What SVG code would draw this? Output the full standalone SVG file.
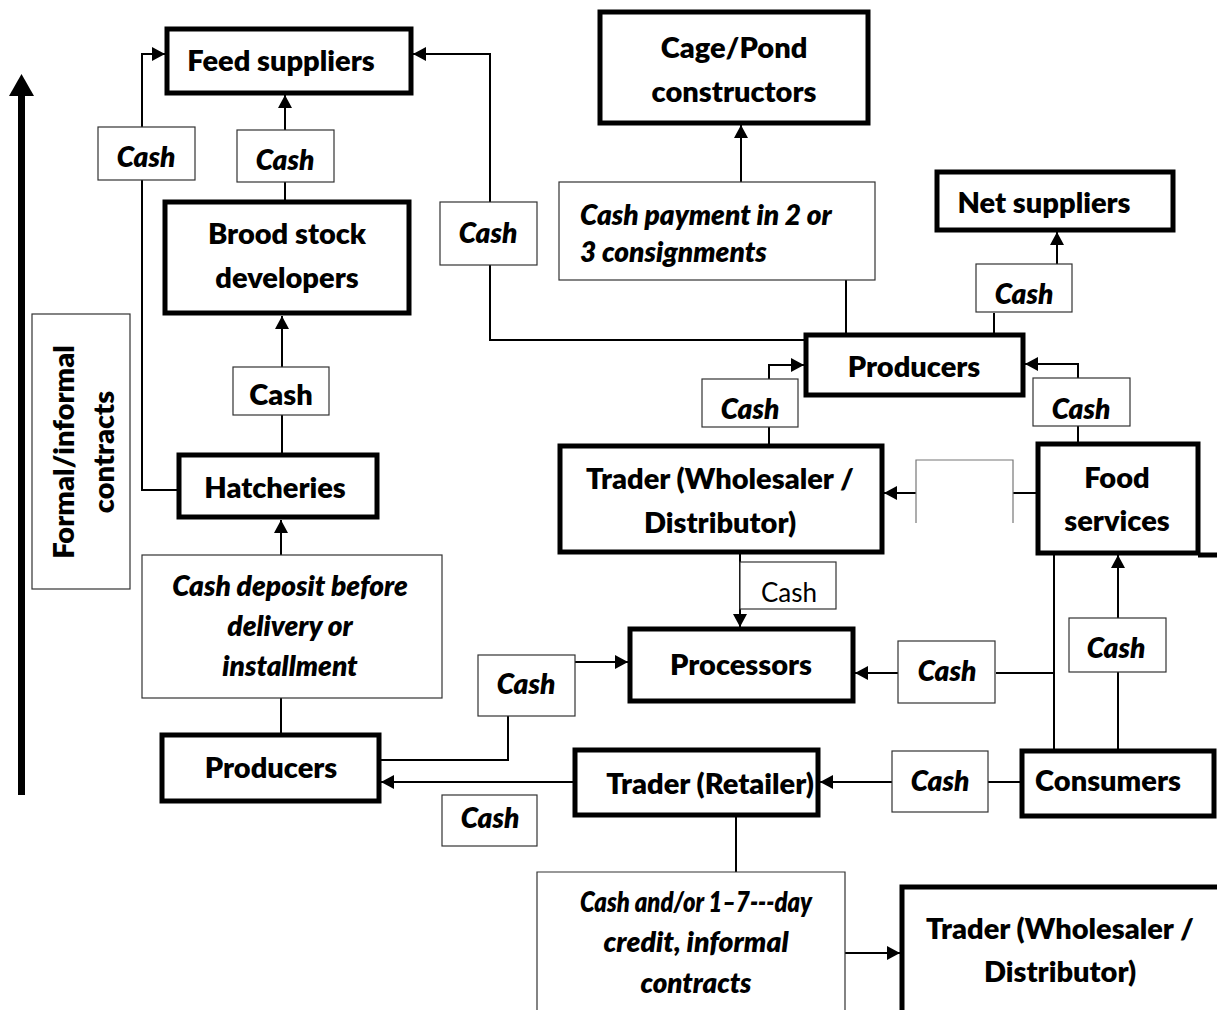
<svg xmlns="http://www.w3.org/2000/svg" width="1217" height="1010" viewBox="0 0 1217 1010">
  <style>
    .node { fill: #fff; stroke: #000; stroke-width: 5; }
    .lbl { fill: #fff; stroke: #333; stroke-width: 1.2; }
    .conn { fill: none; stroke: #000; stroke-width: 2; }
    .t { font-family: Lato, "Liberation Sans", sans-serif; font-weight: 800; font-size: 29px; fill: #000; text-anchor: middle; }
    .ti { font-family: Lato, "Liberation Sans", sans-serif; font-weight: 800; font-style: italic; font-size: 28px; fill: #000; text-anchor: middle; }
    .tl { text-anchor: start; }
    .tr { font-family: Lato, "Liberation Sans", sans-serif; font-weight: 400; font-size: 26px; fill: #000; text-anchor: middle; }
  </style>
  <defs>
    <marker id="ah" markerUnits="userSpaceOnUse" markerWidth="14" markerHeight="14" refX="13" refY="7" orient="auto">
      <path d="M0,0 L13,7 L0,14 z" fill="#000"/>
    </marker>
  </defs>
  <rect width="1217" height="1010" fill="#fff"/>

  <!-- vertical scale arrow -->
  <g id="scale-arrow">
    <rect x="18" y="94" width="7" height="701" fill="#000"/>
    <polygon points="21.5,74 9,96 34,96" fill="#000"/>
  </g>

  <g id="contracts-label">
    <rect class="lbl" x="32" y="314" width="98" height="275"/>
    <text class="t" font-size="25" transform="translate(74,452) rotate(-90)">Formal/informal</text>
    <text class="t" font-size="25" transform="translate(114,452) rotate(-90)">contracts</text>
  </g>

  <!-- connectors -->
  <g id="connectors">
    <path class="conn" d="M178,490 H142 V54 H165" marker-end="url(#ah)"/>
    <path class="conn" d="M285,200 V95" marker-end="url(#ah)"/>
    <path class="conn" d="M282,453 V316" marker-end="url(#ah)"/>
    <path class="conn" d="M281,555 V520" marker-end="url(#ah)"/>
    <path class="conn" d="M281,698 V733"/>
    <path class="conn" d="M804,340 H490 V54 H413" marker-end="url(#ah)"/>
    <path class="conn" d="M846,333 V280"/>
    <path class="conn" d="M741,182 V125" marker-end="url(#ah)"/>
    <path class="conn" d="M994,333 V313"/>
    <path class="conn" d="M1057,264 V232" marker-end="url(#ah)"/>
    <path class="conn" d="M769,444 V365 H804" marker-end="url(#ah)"/>
    <path class="conn" d="M1078,442 V364 H1025" marker-end="url(#ah)"/>
    <path class="conn" d="M1036,493 H1013"/>
    <path class="conn" d="M916,493 H884" marker-end="url(#ah)"/>
    <path d="M916,523 V460 H1013 V523" fill="none" stroke="#777" stroke-width="1.2"/>
    <path class="conn" d="M740,554 V627" marker-end="url(#ah)"/>
    <path class="conn" d="M1054,555 V749"/>
    <path class="conn" d="M1054,673 H996"/>
    <path class="conn" d="M898,673 H855" marker-end="url(#ah)"/>
    <path class="conn" d="M1118,749 V555" marker-end="url(#ah)"/>
    <path class="conn" d="M1020,782 H988"/>
    <path class="conn" d="M892,782 H820" marker-end="url(#ah)"/>
    <path class="conn" d="M573,782 H381" marker-end="url(#ah)"/>
    <path class="conn" d="M381,760 H508 V662 H628" marker-end="url(#ah)"/>
    <path class="conn" d="M736,817 V872"/>
    <path class="conn" d="M845,953 H900" marker-end="url(#ah)"/>
    <path d="M1198,555 H1217" stroke="#000" stroke-width="5"/>
  </g>

  <!-- label boxes -->
  <g id="label-cash-1"><rect class="lbl" x="98" y="127" width="97" height="53"/><text class="ti" x="146" y="167">Cash</text></g>
  <g id="label-cash-2"><rect class="lbl" x="237" y="130" width="97" height="52"/><text class="ti" x="285" y="170">Cash</text></g>
  <g id="label-cash-3"><rect class="lbl" x="233" y="367" width="96" height="48"/><text class="t" font-size="25" x="281" y="405">Cash</text></g>
  <g id="label-cash-4"><rect class="lbl" x="440" y="202" width="97" height="63"/><text class="ti" x="488" y="243">Cash</text></g>
  <g id="label-payment">
    <rect class="lbl" x="559" y="182" width="316" height="98"/>
    <text class="ti tl" x="580" y="225">Cash payment in 2 or</text>
    <text class="ti tl" x="580" y="262">3 consignments</text>
  </g>
  <g id="label-cash-5"><rect class="lbl" x="976" y="264" width="96" height="48"/><text class="ti" x="1024" y="304">Cash</text></g>
  <g id="label-cash-6"><rect class="lbl" x="702" y="379" width="96" height="48"/><text class="ti" x="750" y="419">Cash</text></g>
  <g id="label-cash-7"><rect class="lbl" x="1033" y="378" width="97" height="48"/><text class="ti" x="1081" y="419">Cash</text></g>
  <g id="label-cash-8"><rect class="lbl" x="740" y="562" width="96" height="47"/><text class="tr" x="789" y="602">Cash</text></g>
  <g id="label-cash-9"><rect class="lbl" x="898" y="641" width="97" height="62"/><text class="ti" x="947" y="681">Cash</text></g>
  <g id="label-cash-10"><rect class="lbl" x="1069" y="618" width="97" height="54"/><text class="ti" x="1116" y="658">Cash</text></g>
  <g id="label-cash-11"><rect class="lbl" x="478" y="655" width="97" height="61"/><text class="ti" x="526" y="694">Cash</text></g>
  <g id="label-cash-12"><rect class="lbl" x="892" y="751" width="96" height="61"/><text class="ti" x="940" y="791">Cash</text></g>
  <g id="label-cash-13"><rect class="lbl" x="442" y="795" width="95" height="51"/><text class="ti" x="490" y="828">Cash</text></g>
  <g id="label-deposit">
    <rect class="lbl" x="142" y="555" width="300" height="143"/>
    <text class="ti" x="290" y="596">Cash deposit before</text>
    <text class="ti" x="290" y="636">delivery or</text>
    <text class="ti" x="290" y="676">installment</text>
  </g>
  <g id="label-credit">
    <path d="M537,1012 V872 H845 V1012" class="lbl"/>
    <text class="ti" x="696" y="912" textLength="232" lengthAdjust="spacingAndGlyphs">Cash and/or 1–7---day</text>
    <text class="ti" x="696" y="952" textLength="185" lengthAdjust="spacingAndGlyphs">credit, informal</text>
    <text class="ti" x="696" y="993" textLength="111" lengthAdjust="spacingAndGlyphs">contracts</text>
  </g>

  <!-- nodes -->
  <g id="feed-suppliers"><rect class="node" x="167" y="29" width="244" height="64"/><text class="t" x="281" y="71">Feed suppliers</text></g>
  <g id="cage-pond"><rect class="node" x="600" y="12" width="268" height="111"/><text class="t" x="734" y="58">Cage/Pond</text><text class="t" x="734" y="102">constructors</text></g>
  <g id="net-suppliers"><rect class="node" x="937" y="172" width="236" height="58"/><text class="t" x="1044" y="213">Net suppliers</text></g>
  <g id="brood-stock"><rect class="node" x="165" y="202" width="244" height="111"/><text class="t" x="287" y="244">Brood stock</text><text class="t" x="287" y="288">developers</text></g>
  <g id="hatcheries"><rect class="node" x="179" y="455" width="198" height="62"/><text class="t" x="275" y="498">Hatcheries</text></g>
  <g id="producers-top"><rect class="node" x="806" y="335" width="217" height="60"/><text class="t" x="914" y="377">Producers</text></g>
  <g id="trader-wholesale-1"><rect class="node" x="560" y="446" width="322" height="106"/><text class="t" x="720" y="489">Trader (Wholesaler /</text><text class="t" x="720" y="533">Distributor)</text></g>
  <g id="food-services"><rect class="node" x="1038" y="444" width="160" height="109"/><text class="t" x="1117" y="488">Food</text><text class="t" x="1117" y="531">services</text></g>
  <g id="processors"><rect class="node" x="630" y="629" width="223" height="72"/><text class="t" x="741" y="675">Processors</text></g>
  <g id="producers-bottom"><rect class="node" x="162" y="735" width="217" height="66"/><text class="t" x="271" y="778">Producers</text></g>
  <g id="trader-retailer"><rect class="node" x="575" y="750" width="243" height="65"/><text class="t" x="710" y="794" font-size="28">Trader (Retailer)</text></g>
  <g id="consumers"><rect class="node" x="1022" y="751" width="192" height="65"/><text class="t" x="1108" y="791" font-size="25">Consumers</text></g>
  <g id="trader-wholesale-2"><path class="node" d="M1220,887 H902 V1012"/><text class="t" x="1060" y="939">Trader (Wholesaler /</text><text class="t" x="1060" y="982">Distributor)</text></g>
</svg>
